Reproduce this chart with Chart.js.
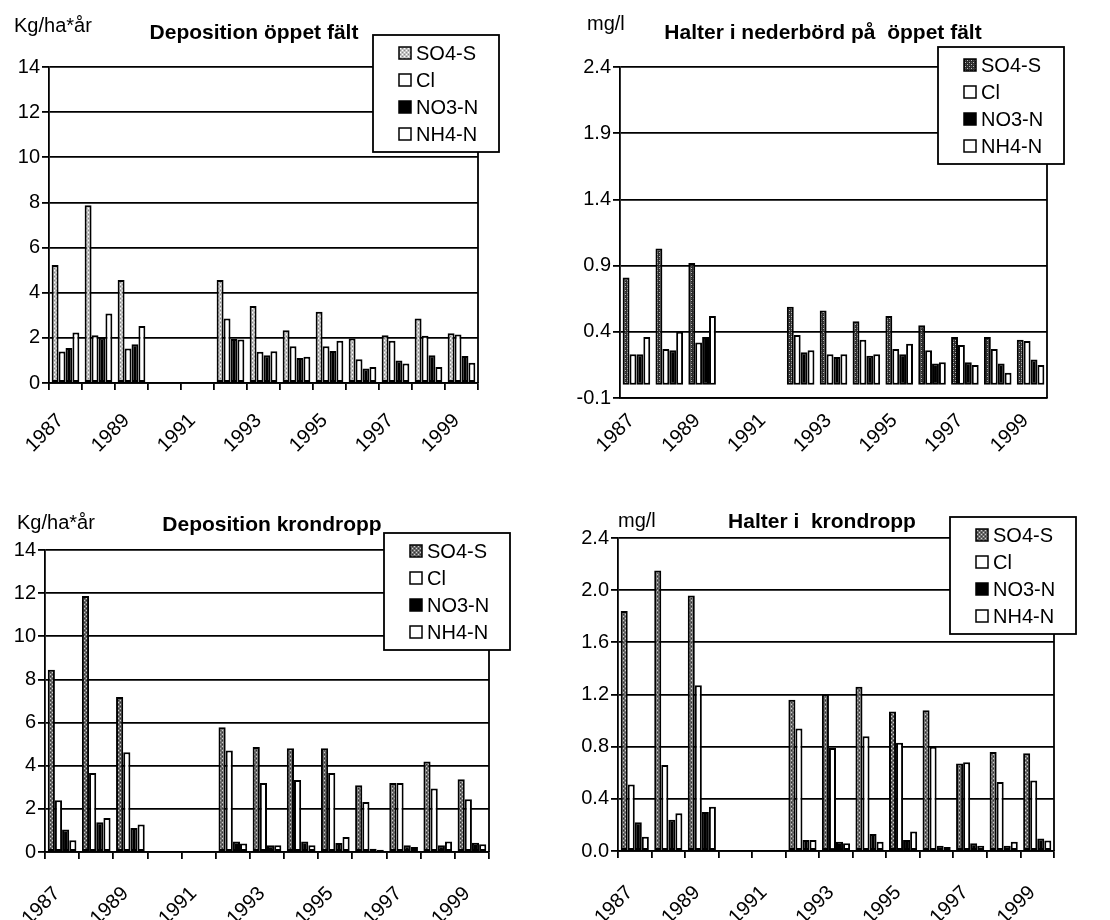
<!DOCTYPE html>
<html lang="sv">
<head>
<meta charset="UTF-8">
<title>Deposition och halter</title>
<script src="https://cdn.jsdelivr.net/npm/chart.js"></script>
<style>
  body { margin: 0; background: #fff; }
  .wrap { position: relative; width: 1110px; height: 920px; }
  .box { position: absolute; width: 555px; height: 460px; }
</style>
</head>
<body>
<div class="wrap">
  <div class="box" style="left:0;top:0"><canvas id="c1" width="555" height="460"></canvas></div>
  <div class="box" style="left:555px;top:0"><canvas id="c2" width="555" height="460"></canvas></div>
  <div class="box" style="left:0;top:460px"><canvas id="c3" width="555" height="460"></canvas></div>
  <div class="box" style="left:555px;top:460px"><canvas id="c4" width="555" height="460"></canvas></div>
</div>
<script>
const years = ['1987', '1988', '1989', '1990', '1991', '1992', '1993', '1994', '1995', '1996', '1997', '1998', '1999'];
const seriesNames = ['SO4-S', 'Cl', 'NO3-N', 'NH4-N'];

// Deposition öppet fält, kg/ha*år
const depOpenSO4 = [5.23, 7.88, 4.56, null, null, 4.56, 3.41, 2.34, 3.16, 1.97, 2.12, 2.86, 2.2];
const depOpenCl  = [1.4, 2.12, 1.53, null, null, 2.86, 1.38, 1.63, 1.63, 1.05, 1.87, 2.09, 2.15];
const depOpenNO3 = [1.55, 2.0, 1.72, null, null, 1.95, 1.23, 1.11, 1.42, 0.64, 1.0, 1.23, 1.2];
const depOpenNH4 = [2.24, 3.08, 2.53, null, null, 1.93, 1.41, 1.16, 1.87, 0.71, 0.86, 0.71, 0.9];

// Halter i nederbörd på öppet fält, mg/l
const concOpenSO4 = [0.81, 1.03, 0.92, null, null, 0.59, 0.56, 0.48, 0.52, 0.45, 0.36, 0.36, 0.34];
const concOpenCl  = [0.23, 0.27, 0.32, null, null, 0.375, 0.23, 0.34, 0.27, 0.26, 0.30, 0.27, 0.33];
const concOpenNO3 = [0.23, 0.26, 0.36, null, null, 0.245, 0.21, 0.22, 0.23, 0.16, 0.17, 0.16, 0.19];
const concOpenNH4 = [0.36, 0.40, 0.52, null, null, 0.26, 0.23, 0.23, 0.31, 0.17, 0.15, 0.09, 0.15];

// Deposition krondropp, kg/ha*år
const depTfSO4 = [8.45, 11.87, 7.19, null, null, 5.78, 4.87, 4.81, 4.81, 3.09, 3.2, 4.2, 3.37];
const depTfCl  = [2.4, 3.66, 4.62, null, null, 4.7, 3.2, 3.34, 3.66, 2.32, 3.2, 2.94, 2.45];
const depTfNO3 = [1.04, 1.38, 1.11, null, null, 0.49, 0.31, 0.49, 0.42, 0.15, 0.31, 0.31, 0.43];
const depTfNH4 = [0.54, 1.58, 1.27, null, null, 0.39, 0.31, 0.31, 0.7, 0.1, 0.23, 0.49, 0.36];

// Halter i krondropp, mg/l
const concTfSO4 = [1.84, 2.15, 1.96, null, null, 1.16, 1.2, 1.26, 1.07, 1.08, 0.67, 0.76, 0.75];
const concTfCl  = [0.51, 0.66, 1.27, null, null, 0.94, 0.79, 0.88, 0.83, 0.8, 0.68, 0.53, 0.54];
const concTfNO3 = [0.22, 0.24, 0.3, null, null, 0.085, 0.07, 0.13, 0.085, 0.04, 0.06, 0.04, 0.095];
const concTfNH4 = [0.11, 0.29, 0.34, null, null, 0.085, 0.06, 0.07, 0.15, 0.03, 0.04, 0.07, 0.08];

const yTicksDep = [0, 2, 4, 6, 8, 10, 12, 14];
const yTicksOpenConc = [-0.1, 0.4, 0.9, 1.4, 1.9, 2.4];
const yTicksTfConc = [0, 0.4, 0.8, 1.2, 1.6, 2.0, 2.4];

const FONT = '"Liberation Sans", Arial, sans-serif';

// stippled grey fill for SO4-S
function stipple(base, dot1, dot2) {
    const c = document.createElement('canvas');
    c.width = 4; c.height = 4;
    const g = c.getContext('2d');
    g.fillStyle = base; g.fillRect(0, 0, 4, 4);
    g.fillStyle = dot1; g.fillRect(0, 0, 1, 1); g.fillRect(2, 2, 1, 1);
    g.fillStyle = dot2; g.fillRect(2, 0, 1, 1); g.fillRect(0, 2, 1, 1);
    return g.createPattern(c, 'repeat');
}

const decor = {
    id: 'decor',
    afterDatasetsDraw(chart, args, o) {
        const ctx = chart.ctx, a = chart.chartArea;
        ctx.save();
        ctx.strokeStyle = '#000';
        ctx.lineWidth = 1.8;
        ctx.beginPath();
        ctx.moveTo(a.right, a.top);
        ctx.lineTo(a.right, a.bottom);
        ctx.stroke();
        if (o.zeroLine) {
            const y0 = chart.scales.y.getPixelForValue(0);
            const xs = chart.scales.x;
            ctx.beginPath();
            ctx.moveTo(a.left, y0);
            ctx.lineTo(a.right, y0);
            for (let i = 0; i <= years.length; i++) {
                const x = xs.getPixelForValue(i - 0.5);
                ctx.moveTo(x, y0);
                ctx.lineTo(x, y0 + 7);
            }
            ctx.stroke();
        }
        ctx.restore();
    },
    afterDraw(chart, args, o) {
        const ctx = chart.ctx, a = chart.chartArea;
        ctx.save();
        ctx.fillStyle = '#000';
        ctx.textBaseline = 'middle';
        ctx.textAlign = 'left';
        ctx.font = '20px ' + FONT;
        ctx.fillText(o.unit, o.unitX, o.unitY);
        ctx.textAlign = 'center';
        ctx.font = 'bold 21px ' + FONT;
        ctx.fillText(o.title, o.titleX, o.titleY);

        const lx = a.right + o.legendDx, ly = a.top + o.legendDy;
        const lw = 126, lh = 117;
        ctx.fillStyle = '#fff';
        ctx.fillRect(lx, ly, lw, lh);
        ctx.strokeStyle = '#000';
        ctx.lineWidth = 1.8;
        ctx.strokeRect(lx, ly, lw, lh);
        ctx.font = '20px ' + FONT;
        ctx.textAlign = 'left';
        chart.data.datasets.forEach((ds, i) => {
            const cy = ly + 18 + i * 27;
            ctx.fillStyle = ds.backgroundColor;
            ctx.fillRect(lx + 26, cy - 6, 12, 12);
            ctx.lineWidth = 1.5;
            ctx.strokeRect(lx + 26, cy - 6, 12, 12);
            ctx.fillStyle = '#000';
            ctx.fillText(ds.label, lx + 43, cy + 1);
        });
        ctx.restore();
    }
};

function makeChart(id, series, so4Fill, cfg) {
    const ctx = document.getElementById(id).getContext('2d');
    const fills = [so4Fill, '#ffffff', '#000000', '#ffffff'];
    return new Chart(ctx, {
        type: 'bar',
        data: {
            labels: years,
            datasets: series.map((d, i) => ({
                label: seriesNames[i],
                data: d,
                backgroundColor: fills[i],
                borderColor: '#000',
                borderWidth: 2,
                borderSkipped: false,
                categoryPercentage: 0.84,
                barPercentage: 1.0
            }))
        },
        options: {
            responsive: false,
            animation: false,
            devicePixelRatio: 1,
            layout: { padding: { left: 0, top: cfg.top, right: cfg.right, bottom: 0 } },
            scales: {
                x: {
                    offset: true,
                    afterFit: s => { s.height = cfg.xHeight; },
                    grid: { offset: true, drawOnChartArea: false, drawTicks: !cfg.zeroLine, tickLength: 7, color: '#000', lineWidth: 1.8 },
                    border: { color: '#000', width: 1.8 },
                    ticks: {
                        autoSkip: false, maxRotation: 45, minRotation: 45, labelOffset: -5,
                        color: '#000', font: { family: FONT, size: 20 }, padding: cfg.xPad,
                        callback: (v, i) => i % 2 === 0 ? years[i] : ''
                    }
                },
                y: {
                    min: cfg.yTicks[0],
                    max: cfg.yTicks[cfg.yTicks.length - 1],
                    afterFit: s => { s.width = cfg.yWidth; },
                    afterBuildTicks: s => { s.ticks = cfg.yTicks.map(v => ({ value: v })); },
                    grid: { color: '#000', lineWidth: 1.8, tickLength: 7 },
                    border: { color: '#000', width: 1.8 },
                    ticks: {
                        color: '#000', font: { family: FONT, size: 20 }, padding: 2,
                        callback: v => cfg.decimals ? Number(v).toFixed(1) : v
                    }
                }
            },
            plugins: {
                legend: { display: false },
                tooltip: { enabled: false },
                decor: cfg.decor
            }
        },
        plugins: [decor]
    });
}

document.addEventListener('DOMContentLoaded', function() {
    makeChart('c1', [depOpenSO4, depOpenCl, depOpenNO3, depOpenNH4], stipple('#c4c4c4', '#ffffff', '#8a8a8a'), {
        top: 67, right: 77, xHeight: 77, yWidth: 49, xPad: 19, yTicks: yTicksDep, decimals: false,
        decor: { unit: 'Kg/ha*år', unitX: 14, unitY: 26, title: 'Deposition öppet fält', titleX: 254, titleY: 33, legendDx: -105, legendDy: -32 }
    });
    makeChart('c2', [concOpenSO4, concOpenCl, concOpenNO3, concOpenNH4], stipple('#2a2a2a', '#bbbbbb', '#555555'), {
        top: 67, right: 63, xHeight: 62, yWidth: 65, xPad: 11, yTicks: yTicksOpenConc, decimals: true, zeroLine: true,
        decor: { unit: 'mg/l', unitX: 32, unitY: 24, title: 'Halter i nederbörd på  öppet fält', titleX: 268, titleY: 33, legendDx: -109, legendDy: -20 }
    });
    makeChart('c3', [depTfSO4, depTfCl, depTfNO3, depTfNH4], stipple('#6a6a6a', '#d0d0d0', '#333333'), {
        top: 90, right: 66, xHeight: 68, yWidth: 45, xPad: 23, yTicks: yTicksDep, decimals: false,
        decor: { unit: 'Kg/ha*år', unitX: 17, unitY: 63, title: 'Deposition krondropp', titleX: 272, titleY: 65, legendDx: -105, legendDy: -17 }
    });
    makeChart('c4', [concTfSO4, concTfCl, concTfNO3, concTfNH4], stipple('#6a6a6a', '#d0d0d0', '#333333'), {
        top: 78, right: 56, xHeight: 69, yWidth: 63, xPad: 23, yTicks: yTicksTfConc, decimals: true,
        decor: { unit: 'mg/l', unitX: 63, unitY: 61, title: 'Halter i  krondropp', titleX: 267, titleY: 62, legendDx: -104, legendDy: -21 }
    });
});
</script>
</body>
</html>
